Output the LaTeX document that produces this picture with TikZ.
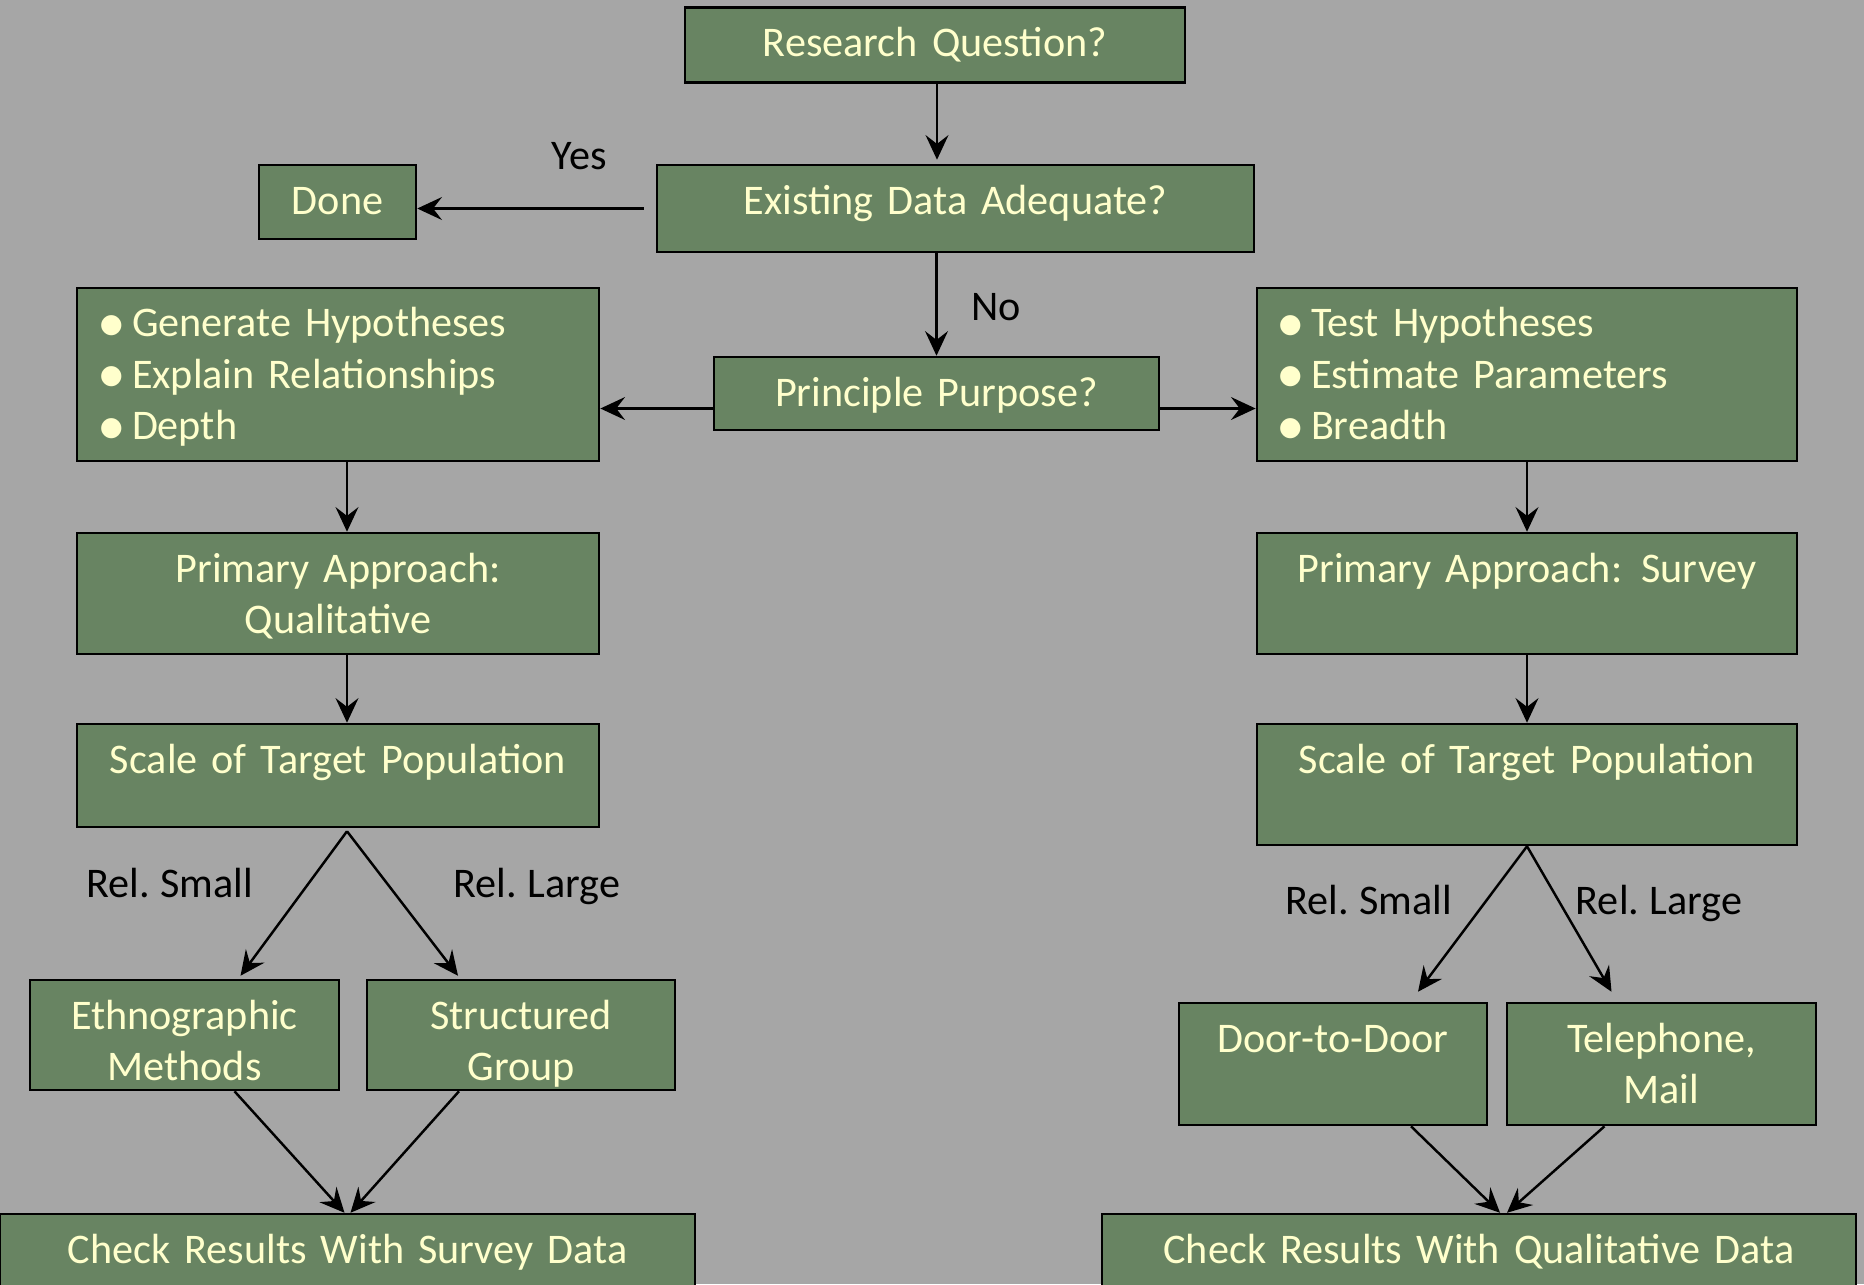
\documentclass[tikz,border=0pt]{standalone}
\usepackage{fontspec}
\setmainfont{Carlito}
\newfontfamily\symfont{DejaVu Sans}
\usetikzlibrary{arrows.meta,calc}
\definecolor{bggray}{RGB}{166,166,166}
\definecolor{boxgreen}{RGB}{104,132,98}
\definecolor{boxtext}{RGB}{255,255,204}
\newcommand{\bul}{\raisebox{1.3pt}{\symfont\fontsize{7.5}{7.5}\selectfont ●}\hspace{2.6pt}}
\newcommand{\boxfont}{\fontsize{12}{14.6}\selectfont\spaceskip=0.17em plus 0.05em\relax}

\begin{document}
\begin{tikzpicture}[x=0.01cm, y=-0.01cm,
    box/.style={draw=black, line width=0.7pt, fill=boxgreen, text=boxtext,
        inner xsep=0pt, inner ysep=0pt, text height=4.9mm, align=center,
        font=\boxfont},
    listbox/.style={box, align=left, inner xsep=2.3mm},
    lbl/.style={anchor=base, font=\boxfont},
    arr/.style={-{Stealth[length=7pt, width=6.5pt, inset=2.5pt]}, line width=0.7pt}]
        \fill[bggray] (0,0) rectangle (1864,1284);
        \useasboundingbox (0,0) rectangle (1864,1284);

        \node[box, text width=5cm, text depth=2.6mm] (rq) at (935,45) {Research Question?};
        \node[box, text width=5.97cm, text depth=3.8mm] (eda) at (955.5,208.5) {Existing Data Adequate?};
        \node[box, text width=1.57cm, text depth=2.5mm] (done) at (337.5,202) {Done};
        \node[box, text width=4.45cm, text depth=2.4mm] (pp) at (936.5,393.5) {Principle Purpose?};

        \node[listbox, text width=4.76cm, text depth=12.4mm] (gen) at (338,374.5)
            {\bul Generate Hypotheses\\ \bul Explain Relationships\\ \bul Depth};
        \node[listbox, text width=4.96cm, inner xsep=2.2mm, text depth=12.4mm] (test) at (1527,374.5)
            {\bul Test Hypotheses\\ \bul Estimate Parameters\\ \bul Breadth};

        \node[box, text width=5.22cm, text depth=7.2mm] (qual) at (338,593.5) {Primary Approach:\\ Qualitative};
        \node[box, text width=5.4cm, text depth=7.2mm] (survey) at (1527,593.5) {Primary Approach:\hspace{0.45em}Survey};

        \node[box, text width=5.22cm, text depth=5.4mm] (scaleL) at (338,775.5) {Scale of Target Population};
        \node[box, text width=5.4cm, text depth=7.2mm] (scaleR) at (1527,784.5) {Scale of Target Population};

        \node[box, text width=3.09cm, text depth=6.1mm] (ethno) at (184.5,1035) {Ethnographic\\ Methods};
        \node[box, text width=3.08cm, text depth=6.1mm] (struct) at (521,1035) {Structured\\ Group};
        \node[box, text width=3.08cm, text depth=7.3mm] (door) at (1333,1064) {Door-to-Door};
        \node[box, text width=3.09cm, text depth=7.3mm] (tel) at (1661.5,1064) {Telephone,\\ Mail};

        \node[box, text width=6.95cm, text depth=2.7mm] (checkS) at (347.5,1252) {Check Results With Survey Data};
        \node[box, text width=7.54cm, text depth=2.7mm] (checkQ) at (1479,1252) {Check Results With Qualitative Data};

        \node[lbl] (yes) at (579,169) {Yes};
        \node[lbl] (no) at (996,320) {No};
        \node[lbl] (smallL) at (170,897) {Rel. Small};
        \node[lbl] (largeL) at (537,897) {Rel. Large};
        \node[lbl] (smallR) at (1369,914) {Rel. Small};
        \node[lbl] (largeR) at (1659,914) {Rel. Large};

        \draw[arr] ($(rq.south)+(2,0)$) -- ($(rq.south |- eda.north)+(2,-4)$);
        \draw[arr] ($(eda.west)+(-12,0)$) -- (done.east |- eda.west);
        \draw[arr] (pp.north |- eda.south) -- (pp.north);
        \draw[arr] ($(pp.west)+(0,15)$) -- ($(gen.east |- pp.west)+(0,15)$);
        \draw[arr] ($(pp.east)+(0,15)$) -- ($(test.west |- pp.east)+(0,15)$);

        \draw[arr] ($(gen.south)+(9,0)$) -- ($(qual.north)+(9,0)$);
        \draw[arr] ($(qual.south)+(9,0)$) -- ($(scaleL.north)+(9,0)$);
        \draw[arr] (test.south) -- (survey.north);
        \draw[arr] (survey.south) -- (scaleR.north);

        \draw[arr] ($(scaleL.south)+(9,3)$) -- ($(ethno.north)+(56,-3)$);
        \draw[arr] ($(scaleL.south)+(9,3)$) -- ($(struct.north)+(-63,-3)$);
        \draw[arr] ($(ethno.south)+(50,0)$) -- ($(checkS.north)+(-3,0)$);
        \draw[arr] ($(struct.south)+(-62,0)$) -- ($(checkS.north)+(3,0)$);

        \draw[arr] (scaleR.south) -- ($(door.north)+(85,-10)$);
        \draw[arr] (scaleR.south) -- ($(tel.north)+(-50,-10)$);
        \draw[arr] ($(door.south)+(78,0)$) -- ($(checkQ.north)+(21,0)$);
        \draw[arr] ($(tel.south)+(-57,0)$) -- ($(checkQ.north)+(28,0)$);
    \end{tikzpicture}
\end{document}
